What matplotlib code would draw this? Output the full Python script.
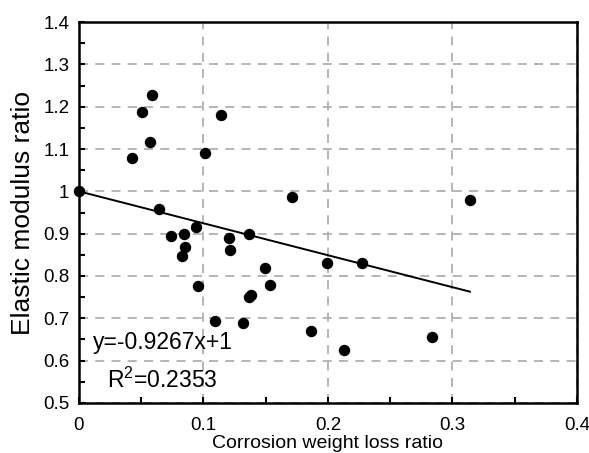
import matplotlib
matplotlib.use('Agg')
import matplotlib.pyplot as plt
from matplotlib.ticker import MultipleLocator

plt.rcParams['font.family'] = ['Liberation Sans', 'DejaVu Sans']
plt.rcParams['mathtext.fontset'] = 'custom'
plt.rcParams['mathtext.rm'] = 'Liberation Sans'
plt.rcParams['mathtext.it'] = 'Liberation Sans'

# corrosion weight loss ratio vs elastic modulus ratio
weight_loss = [0.0, 0.0423, 0.0504, 0.0586, 0.0573, 0.1012, 0.1143, 0.0645,
               0.0737, 0.0843, 0.0942, 0.0854, 0.0825, 0.1207, 0.1213, 0.1363,
               0.0953, 0.1092, 0.1320, 0.1494, 0.1532, 0.1379, 0.1368, 0.1861,
               0.1711, 0.3138, 0.1992, 0.2271, 0.2131, 0.2838]
modulus = [1.0, 1.0795, 1.188, 1.227, 1.1166, 1.090, 1.181, 0.959,
           0.895, 0.899, 0.9165, 0.869, 0.848, 0.889, 0.861, 0.8985,
           0.776, 0.694, 0.689, 0.819, 0.7795, 0.755, 0.750, 0.671,
           0.987, 0.979, 0.831, 0.831, 0.626, 0.655]

# fitted line as drawn
fit_x = [0.0, 0.314]
fit_y = [1.0, 0.763]

xticks = [0, 0.1, 0.2, 0.3, 0.4]
xtick_labels = ['0', '0.1', '0.2', '0.3', '0.4']
yticks = [0.5, 0.6, 0.7, 0.8, 0.9, 1.0, 1.1, 1.2, 1.3, 1.4]
ytick_labels = ['0.5', '0.6', '0.7', '0.8', '0.9', '1', '1.1', '1.2', '1.3', '1.4']

fig = plt.figure(figsize=(5.89, 4.53), dpi=100)
ax = fig.add_axes([0.1341, 0.1104, 0.8455, 0.841])

ax.scatter(weight_loss, modulus, s=52, color='black', zorder=3, clip_on=False)
ax.plot(fit_x, fit_y, color='black', lw=1.4, zorder=2)

ax.set_xlim(0, 0.4)
ax.set_ylim(0.5, 1.4)
ax.set_xticks(xticks)
ax.set_xticklabels(xtick_labels)
ax.set_yticks(yticks)
ax.set_yticklabels(ytick_labels)
ax.xaxis.set_minor_locator(MultipleLocator(0.05))
ax.yaxis.set_minor_locator(MultipleLocator(0.05))

ax.grid(True, which='major', color='#b0b0b0', ls=(0, (5, 4)), lw=1.3)
ax.tick_params(which='both', direction='in', labelsize=13.5, width=1.5, length=4)
ax.tick_params(axis='x', pad=10)
ax.tick_params(axis='y', pad=7)
for s in ax.spines.values():
    s.set_linewidth(1.8)

ax.set_xlabel('Corrosion weight loss ratio', fontsize=14, labelpad=1)
ax.set_ylabel('Elastic modulus ratio', fontsize=19, labelpad=6)

ax.text(0.011, 0.6276, 'y=-0.9267x+1', fontsize=16.5, va='baseline', ha='left')
ax.text(0.0225, 0.5354, r'R$^{2}$=0.2353', fontsize=16.5, va='baseline', ha='left')

fig.savefig('out.png', dpi=100)
